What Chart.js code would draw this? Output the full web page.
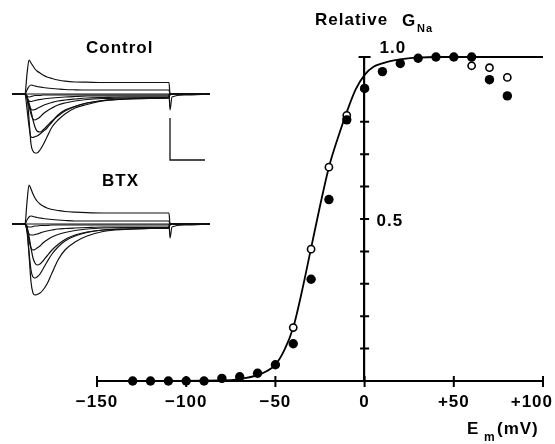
<!DOCTYPE html>
<html>
<head>
<meta charset="utf-8">
<script src="https://cdn.jsdelivr.net/npm/chart.js@4.4.1/dist/chart.umd.min.js"></script>
<style>
  body { margin: 0; background: #fff; }
  #wrap { position: relative; width: 555px; height: 444px; }
  #wrap canvas { position: absolute; }
</style>
</head>
<body>
<div id="wrap">
  <canvas id="main" width="555" height="444" style="left:0;top:0"></canvas>
  <canvas id="ctrl" width="220" height="135" style="left:0;top:40px"></canvas>
  <canvas id="btx" width="220" height="135" style="left:0;top:170px"></canvas>
</div>
<script>
// Boltzmann-like fit line
const fitV = [-150, -80, -70, -60, -55, -50, -45, -40, -35, -30, -25, -20, -15, -10, -5, 0, 5, 10, 15, 20, 30, 40, 100];
const fitG = [0, 0.002, 0.006, 0.018, 0.03, 0.05, 0.095, 0.165, 0.28, 0.41, 0.54, 0.66, 0.75, 0.83, 0.9, 0.945, 0.97, 0.98, 0.988, 0.993, 0.998, 1.0, 1.0];

// filled circles
const solidV = [-130, -120, -110, -100, -90, -80, -70, -60, -50, -40, -30, -20, -10, 0, 10, 20, 30, 40, 50, 60, 70, 80];
const solidG = [0, 0, 0, 0, 0, 0.008, 0.013, 0.024, 0.05, 0.115, 0.314, 0.56, 0.806, 0.903, 0.955, 0.98, 0.996, 1.0, 1.0, 1.0, 0.93, 0.88];

// open circles
const openV = [-40, -30, -20, -10, 60, 70, 80];
const openG = [0.165, 0.407, 0.66, 0.82, 0.973, 0.967, 0.937];

// axis ticks and labels
const xTicks = [-150, -100, -50, 0, 50, 100];
const xTickLabels = ['\u2212150', '\u2212100', '\u221250', '0', '+50', '+100'];
const yTicks = [0.1, 0.2, 0.3, 0.4, 0.5, 0.6, 0.7, 0.8, 0.9, 1.0];
const yLabelValues = [1.0, 0.5];
const yLabelText = ['1.0', '0.5'];

// current traces in the insets (time from pulse start, current, outward up)
const traceT = [-13, 0, 2, 4, 6, 8, 10, 12, 15, 18, 22, 27, 33, 40, 50, 62, 78, 100, 125, 144, 145, 147, 160, 185];
const controlTraces = [
  [0, 0, 20, 34, 31, 28, 25, 23, 21, 19, 17, 15.5, 14, 12.8, 12, 11.8, 11.5, 11.5, 11.5, 11.5, 0, 0, 0, 0],
  [0, 0, 4, 7.5, 9, 8.5, 8, 7.5, 7, 6.5, 6, 5.5, 5, 4.5, 4.2, 4, 4, 4, 4, 4, 0, 0, 0, 0],
  [0, 0, -2, -3, -2.5, -2, -1.5, -1.5, -1.5, -1, -1, -1, -1, -1, -1, -1, -1, -1, -1, -1, 0, 0, 0, 0],
  [0, 0, -4, -7, -7.5, -7, -6.5, -6, -5.5, -5, -4.5, -4, -3.5, -3, -2.5, -2, -2, -2, -2, -2, 0, 0, 0, 0],
  [0, 0, -5, -11, -15, -16, -15.5, -14.5, -13, -11.5, -10, -8.5, -7, -6, -5, -4, -3.5, -3, -3, -3, 0, 0, 0, 0],
  [0, 0, -4, -12, -20, -25, -26, -25, -23, -20, -17, -14, -11, -9, -7, -5.5, -4.5, -4, -3.5, -3.5, 0, 0, 0, 0],
  [0, 0, -3, -9, -17, -26, -33, -37, -38, -36, -32, -27, -22, -17, -12.5, -9, -6.5, -5, -4.5, -4, 0, 0, 0, 0],
  [0, 0, -15, -32, -43, -43.5, -42.5, -42, -40, -37.5, -34, -28, -21, -16, -12.5, -9, -6.5, -5, -4.5, -4, 0, 0, 0, 0],
  [0, 0, -2, -25, -50, -57, -59, -59, -56, -51, -43, -33, -26, -20, -14, -10.5, -7, -5, -4, -3.5, 0, 0, 0, 0]
];
const controlBase = [0, 0, 0, 0, 0, 0, 0, 0, 0, 0, 0, 0, 0, 0, 0, 0, 0, 0, 0, 0, -16, -3, -1, 0];
const btxTraces = [
  [0, 0, 22, 39, 35, 30, 26, 23, 20, 18, 16, 14.5, 13.5, 12.5, 11.8, 11.3, 11, 11, 11, 11, 0, 0, 0, 0],
  [0, 0, 4, 7, 8, 7.5, 7, 6.5, 6, 5.5, 5, 4.5, 4, 3.5, 3, 3, 3, 3, 3, 3, 0, 0, 0, 0],
  [0, 0, -2, -3, -3, -2.5, -2, -2, -1.5, -1.5, -1.5, -1, -1, -1, -1, -1, -1, -1, -1, -1, 0, 0, 0, 0],
  [0, 0, -5, -10, -11, -11, -10.5, -10, -9, -8, -7, -6, -5, -4.5, -4, -3.5, -3, -3, -3, -3, 0, 0, 0, 0],
  [0, 0, -6, -16, -24, -26, -25.5, -24, -22, -19, -16, -13, -10.5, -8.5, -6.5, -5, -4, -3.5, -3.5, -3.5, 0, 0, 0, 0],
  [0, 0, -3, -12, -24, -34, -39, -41, -40, -37, -32, -26, -20.5, -15.5, -11, -8, -6, -5, -4.5, -4.5, 0, 0, 0, 0],
  [0, 0, -8, -28, -46, -53, -54, -53, -50, -45, -38, -30, -23, -17, -12, -8.5, -6, -5, -4.5, -4.5, 0, 0, 0, 0],
  [0, 0, -4, -30, -58, -69, -71, -70.5, -69, -66, -60, -49, -36, -26, -18, -12, -7.5, -5.5, -4.5, -4, 0, 0, 0, 0]
];
const btxBase = [0, 0, 0, 0, 0, 0, 0, 0, 0, 0, 0, 0, 0, 0, 0, 0, 0, 0, 0, 0, -14, -3, -1, 0];

// calibration bar under the control traces
const barT = [145, 145, 180];
const barI = [-24, -66, -66];

const FONT = '"Liberation Sans", Arial, Helvetica, sans-serif';

function pts(xs, ys) {
    return xs.map((v, i) => ({ x: v, y: ys[i] }));
}

//Draws tick marks, tick labels and titles around the main axes
const decor = {
    id: 'decor',
    afterDraw(chart) {
        const { ctx, scales: { x, y } } = chart;
        const x0 = x.getPixelForValue(0);
        const y0 = y.getPixelForValue(0);
        ctx.save();
        ctx.strokeStyle = '#000';
        ctx.lineWidth = 2;
        ctx.beginPath();
        xTicks.forEach(v => {
            const px = x.getPixelForValue(v);
            ctx.moveTo(px, y0 - 5);
            ctx.lineTo(px, y0 + 6);
        });
        yTicks.forEach(v => {
            const py = y.getPixelForValue(v);
            const half = v === 1 ? 6 : 4.5;
            ctx.moveTo(x0 - half, py);
            ctx.lineTo(x0 + half, py);
        });
        ctx.stroke();

        ctx.fillStyle = '#000';
        ctx.letterSpacing = '1px';
        ctx.textBaseline = 'alphabetic';
        ctx.font = 'bold 17px ' + FONT;
        ctx.textAlign = 'center';
        xTicks.forEach((v, i) => {
            const w = ctx.measureText(xTickLabels[i]).width;
            let px = x.getPixelForValue(v);
            px = Math.min(px, chart.width - 2 - w / 2);
            ctx.fillText(xTickLabels[i], px, y0 + 26);
        });

        ctx.textAlign = 'left';
        ctx.font = 'bold 17px ' + FONT;
        yLabelValues.forEach((v, i) => {
            const py = y.getPixelForValue(v);
            const dy = v === 1 ? -4 : 7;
            ctx.fillText(yLabelText[i], x0 + (v === 1 ? 15 : 12), py + dy);
        });

        // y title: Relative G_Na
        ctx.fillText('Relative', 315, 25);
        ctx.fillText('G', 402, 26);
        ctx.font = 'bold 11px ' + FONT;
        ctx.fillText('Na', 417, 32);

        // x title: E_m(mV)
        ctx.font = 'bold 17px ' + FONT;
        ctx.fillText('E', 467, 434);
        ctx.font = 'bold 12px ' + FONT;
        ctx.fillText('m', 484, 441);
        ctx.font = 'bold 17px ' + FONT;
        ctx.fillText('(mV)', 497, 434);

        // inset labels
        ctx.fillText('Control', 86, 53);
        ctx.fillText('BTX', 102, 186);
        ctx.restore();
    }
};

new Chart(document.getElementById('main'), {
    type: 'line',
    data: {
        datasets: [
            {
                data: pts(solidV, solidG),
                showLine: false,
                pointRadius: 4.7,
                pointBackgroundColor: '#000',
                pointBorderWidth: 0,
                order: 1,
                clip: false
            },
            {
                data: pts(openV, openG),
                showLine: false,
                pointRadius: 3.6,
                pointBackgroundColor: '#fff',
                pointBorderColor: '#000',
                pointBorderWidth: 1.6,
                order: 2,
                clip: false
            },
            {
                data: pts(fitV, fitG),
                borderColor: '#000',
                borderWidth: 1.8,
                pointRadius: 0,
                cubicInterpolationMode: 'monotone',
                order: 3,
                clip: false
            }
        ]
    },
    options: {
        responsive: false,
        animation: false,
        layout: { padding: { left: 97, right: 12, top: 57, bottom: 63 } },
        plugins: { legend: { display: false }, tooltip: { enabled: false } },
        scales: {
            x: {
                type: 'linear',
                min: -150,
                max: 100,
                grid: { display: false, drawTicks: false },
                ticks: { display: false },
                border: { display: true, color: '#000', width: 2 }
            },
            y: {
                type: 'linear',
                position: { x: 0 },
                min: 0,
                max: 1,
                grid: { display: false, drawTicks: false },
                ticks: { display: false },
                border: { display: true, color: '#000', width: 2.2 }
            }
        }
    },
    plugins: [decor]
});

//Creates one inset of current traces
function insetChart(id, traces, base, withBar) {
    const datasets = traces.concat([base]).map(vals => ({
        data: pts(traceT, vals),
        borderColor: '#111',
        borderWidth: 1.2,
        pointRadius: 0,
        cubicInterpolationMode: 'monotone'
    }));
    if (withBar) {
        datasets.push({
            data: pts(barT, barI),
            borderColor: '#111',
            borderWidth: 1.3,
            pointRadius: 0
        });
    }
    new Chart(document.getElementById(id), {
        type: 'line',
        data: { datasets: datasets },
        options: {
            responsive: false,
            animation: false,
            layout: { padding: 0 },
            plugins: { legend: { display: false }, tooltip: { enabled: false } },
            scales: {
                x: { type: 'linear', display: false, min: -25, max: 195 },
                y: { type: 'linear', display: false, min: -81, max: 54 }
            }
        }
    });
}

insetChart('ctrl', controlTraces, controlBase, true);
insetChart('btx', btxTraces, btxBase, false);
</script>
</body>
</html>
